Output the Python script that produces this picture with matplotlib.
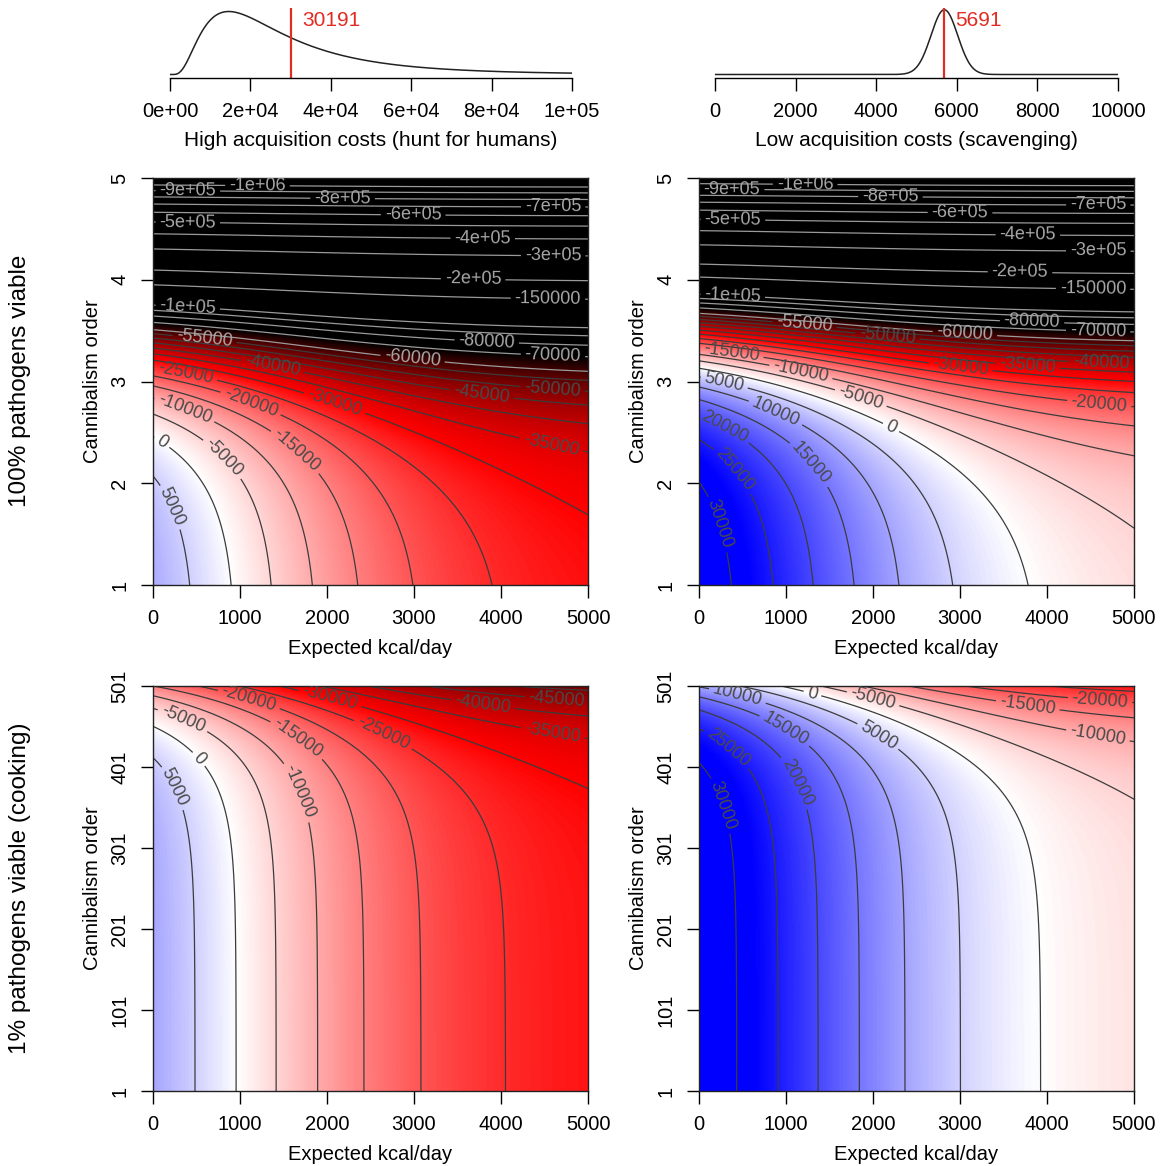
import numpy as np
import matplotlib.pyplot as plt
from matplotlib.colors import LinearSegmentedColormap, Normalize

plt.rcParams['font.family'] = ['Liberation Sans', 'DejaVu Sans']

# acquisition costs (kcal), red lines in the top densities
hunt_cost = 30191
scavenge_cost = 5691
hunt_mode = 14600        # peak of the hunting cost density
scavenge_sd = 330

hunt_ticks = [0, 20000, 40000, 60000, 80000, 100000]
hunt_labels = ['0e+00', '2e+04', '4e+04', '6e+04', '8e+04', '1e+05']
scav_ticks = [0, 2000, 4000, 6000, 8000, 10000]

kcal_ticks = [0, 1000, 2000, 3000, 4000, 5000]
order_top_ticks = [1, 2, 3, 4, 5]
order_bottom_ticks = [1, 101, 201, 301, 401, 501]

body_amp = 56850
body_offset = -350
body_mid = 1150
body_scale = 1304
# pathogen cost per cannibalism order: 100% viable, 1% viable
path_amp = [95, 2.0]
path_rate = [1.88, 0.0188]

levels = [-1e6, -9e5, -8e5, -7e5, -6e5, -5e5, -4e5, -3e5, -2e5, -150000, -1e5,
          -90000, -80000, -70000, -60000] + list(range(-55000, 40000, 5000))

# where the contour labels sit (kcal/day, order)
lab_tl = {-9e5: (400, 4.85), -1e6: (1200, 4.90), -8e5: (2180, 4.77), -7e5: (4600, 4.70),
          -6e5: (2990, 4.63), -5e5: (400, 4.56), -4e5: (3790, 4.41), -3e5: (4600, 4.24),
          -2e5: (3680, 4.03), -150000: (4540, 3.85), -1e5: (400, 3.75), -80000: (3840, 3.46),
          -70000: (4600, 3.32), -60000: (2990, 3.28), -55000: (600, 3.48), -50000: (4600, 3.0),
          -45000: (3790, 2.96), -40000: (1380, 3.18), -35000: (4600, 2.47), -30000: (2110, 2.85),
          -25000: (390, 3.14), -20000: (1150, 2.85), -15000: (1710, 2.38), -10000: (370, 2.74),
          -5000: (850, 2.28), 0: (100, 2.40), 5000: (140, 1.74)}
lab_tr = {-9e5: (380, 4.85), -1e6: (1220, 4.91), -8e5: (2200, 4.77), -7e5: (4590, 4.71),
          -6e5: (3000, 4.64), -5e5: (390, 4.57), -4e5: (3780, 4.42), -3e5: (4590, 4.28),
          -2e5: (3690, 4.10), -150000: (4530, 3.94), -1e5: (390, 3.87), -80000: (3830, 3.63),
          -70000: (4590, 3.56), -60000: (3060, 3.52), -55000: (1220, 3.63), -50000: (2170, 3.50),
          -35000: (3780, 3.23), -30000: (3020, 3.23), -40000: (4630, 3.28), -15000: (380, 3.31),
          -10000: (1180, 3.13), -5000: (1890, 2.92), 0: (2250, 2.62), -20000: (4610, 2.87),
          5000: (300, 3.03), 10000: (930, 2.79), 15000: (1330, 2.23), 20000: (320, 2.60),
          25000: (410, 2.13), 30000: (130, 1.57)}
lab_bl = {-20000: (1100, 484), -30000: (2030, 484), -40000: (3790, 477), -45000: (4640, 485),
          -5000: (330, 456), -15000: (1650, 434), -25000: (2640, 440), -35000: (4600, 447),
          0: (540, 412), -10000: (1650, 369), 5000: (120, 369)}
lab_br = {10000: (430, 484), 0: (1300, 490), -5000: (2000, 485), -15000: (3780, 478),
          -20000: (4610, 484), -10000: (4590, 443), 15000: (990, 447), 5000: (2080, 443),
          25000: (300, 420), 20000: (1100, 381), 30000: (160, 350)}

W, H = 1161, 1166
fig = plt.figure(figsize=(W / 100, H / 100), dpi=100)


def px_axes(x0, y0, x1, y1):
    return fig.add_axes([x0 / W, 1 - y1 / H, (x1 - x0) / W, (y1 - y0) / H])


def fmt_level(v):
    if v != 0 and abs(v) >= 1e5 and v % 1e5 == 0:
        return '%.0e' % v
    return '%d' % v


cmap = LinearSegmentedColormap.from_list(
    'bwrk', [(0.0, 'black'), (40000 / 98000, 'red'), (70000 / 98000, 'white'), (1.0, 'blue')])
norm = Normalize(vmin=-70000, vmax=28000, clip=True)

tick_kw = dict(direction='out', length=9, width=1, labelsize=14.5, pad=8)


def heat_panel(ax, cost, row, ylim, yticks, labpos):
    k = np.linspace(0, 5000, 500)
    n = np.linspace(ylim[0], ylim[1], 500)
    K, N = np.meshgrid(k, n)
    V = body_offset + body_amp / (1 + np.exp((K - body_mid) / body_scale)) - cost \
        - path_amp[row] * np.exp(path_rate[row] * N)
    ax.imshow(V, extent=[0, 5000, ylim[0], ylim[1]], origin='lower', aspect='auto',
              cmap=cmap, norm=norm, interpolation='bilinear')
    ax.set_xlim(0, 5000)
    ax.set_ylim(ylim)
    for lv in levels:
        if V.min() > lv or V.max() < lv:
            continue
        lc = '#9a9a9a' if lv <= -60000 else '#3c3c3c'
        cs = ax.contour(K, N, V, levels=[lv], colors=[lc], linewidths=0.9, linestyles='solid')
        if lv in labpos:
            tc = '#a8a8a8' if lv <= -55000 else '#4a4a4a'
            cs.clabel(fmt=fmt_level, fontsize=13, inline=True, inline_spacing=4,
                      colors=[tc], manual=[labpos[lv]])
    ax.set_xticks(kcal_ticks)
    ax.set_yticks(yticks)
    ax.tick_params(**tick_kw)
    for lab in ax.get_yticklabels():
        lab.set_rotation(90)
        lab.set_va('center')
    for s in ax.spines.values():
        s.set_linewidth(1)
        s.set_color('#222222')


panels = [((153, 178, 588, 585), hunt_cost, 0, (1, 5), order_top_ticks, lab_tl),
          ((699, 178, 1134, 585), scavenge_cost, 0, (1, 5), order_top_ticks, lab_tr),
          ((153, 686, 588, 1091), hunt_cost, 1, (1, 501), order_bottom_ticks, lab_bl),
          ((699, 686, 1134, 1091), scavenge_cost, 1, (1, 501), order_bottom_ticks, lab_br)]

for box, cost, row, ylim, yt, lp in panels:
    ax = px_axes(*box)
    heat_panel(ax, cost, row, ylim, yt, lp)
    xc = (box[0] + box[2]) / 2
    fig.text(xc / W, 1 - (box[3] + 63) / H, 'Expected kcal/day', ha='center', va='center', fontsize=14.5)
    fig.text((box[0] - 61) / W, 1 - (box[1] + box[3]) / 2 / H, 'Cannibalism order',
             ha='center', va='center', rotation=90, fontsize=14.5)

fig.text(20 / W, 1 - 381 / H, '100% pathogens viable', rotation=90, ha='center', va='center', fontsize=17.5)
fig.text(20 / W, 1 - 888 / H, '1% pathogens viable (cooking)', rotation=90, ha='center', va='center', fontsize=17.5)

# top densities
red = '#e32b22'
sig = np.sqrt(np.log(hunt_cost / hunt_mode) / 1.5)
mu = np.log(hunt_cost) - sig ** 2 / 2
x1 = np.linspace(1, 100000, 800)
d1 = np.exp(-(np.log(x1) - mu) ** 2 / (2 * sig ** 2)) / (x1 * sig * np.sqrt(2 * np.pi))
x2 = np.linspace(0, 10000, 800)
d2 = np.exp(-(x2 - scavenge_cost) ** 2 / (2 * scavenge_sd ** 2))

dens = [((170, 8, 572, 78), x1, d1, hunt_cost, hunt_ticks, hunt_labels,
         'High acquisition costs (hunt for humans)', 0.95),
        ((715, 8, 1118, 78), x2, d2, scavenge_cost, scav_ticks, [str(t) for t in scav_ticks],
         'Low acquisition costs (scavenging)', 0.975)]

for box, xs, ds, cost, ticks, labels, title, top in dens:
    ax = px_axes(*box)
    pk = ds.max()
    span = pk / (top - 0.05)
    ax.plot(xs, ds, color='#222222', lw=1.1)
    ax.axvline(cost, color=red, lw=1.6)
    ax.set_xlim(ticks[0], ticks[-1])
    ax.set_ylim(-0.05 * span, pk + (1 - top) * span)
    for s in ['top', 'left', 'right']:
        ax.spines[s].set_visible(False)
    ax.spines['bottom'].set_linewidth(1)
    ax.set_yticks([])
    ax.set_xticks(ticks)
    ax.set_xticklabels(labels)
    ax.tick_params(**tick_kw)
    ax.patch.set_alpha(0)
    xc = (box[0] + box[2]) / 2
    fig.text(xc / W, 1 - 141 / H, title, ha='center', va='center', fontsize=15)
    lx = box[0] + (cost - ticks[0]) / (ticks[-1] - ticks[0]) * (box[2] - box[0]) + 11
    fig.text(lx / W, 1 - 21 / H, str(cost), color=red, ha='left', va='center', fontsize=15)

fig.savefig('out.png', dpi=100)
